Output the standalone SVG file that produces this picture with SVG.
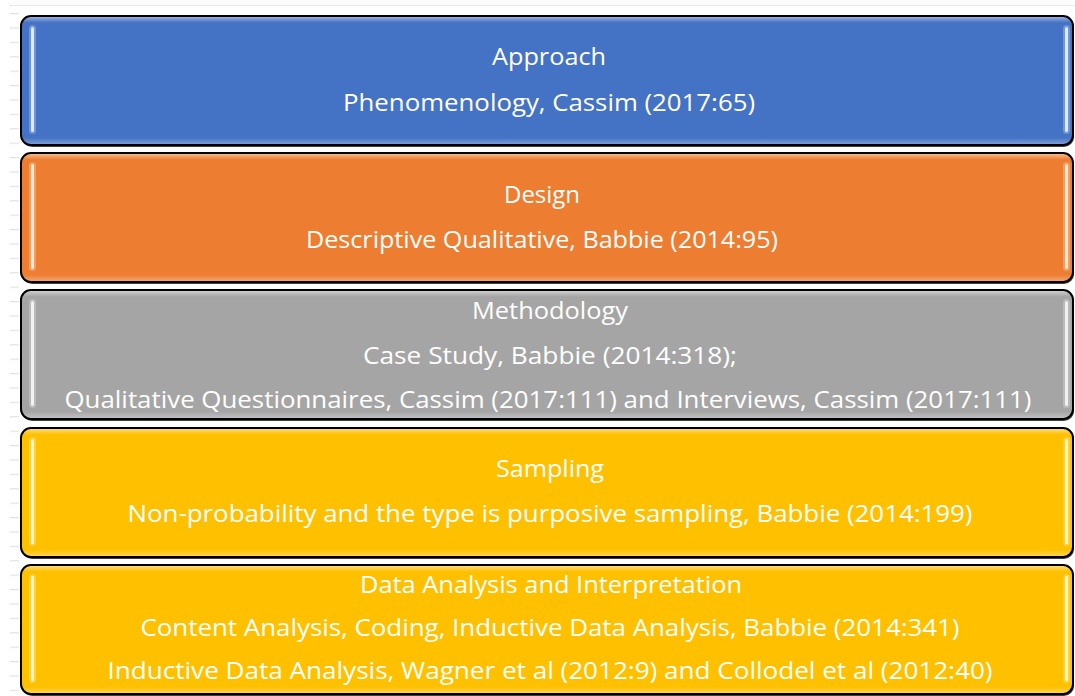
<svg xmlns="http://www.w3.org/2000/svg" width="1075" height="696" viewBox="0 0 1075 696">
<defs>
<linearGradient id="bevel" x1="0" y1="0" x2="0" y2="1">
<stop offset="0" stop-color="#fff" stop-opacity="0.45"/>
<stop offset="0.045" stop-color="#fff" stop-opacity="0"/>
<stop offset="0.95" stop-color="#fff" stop-opacity="0"/>
<stop offset="1" stop-color="#fff" stop-opacity="0.3"/>
</linearGradient>
<pattern id="dash" x="0" y="13" width="30" height="14.4" patternUnits="userSpaceOnUse">
<rect x="10" y="0" width="9" height="1.2" fill="#e2e2e2"/>
</pattern>
</defs>
<style>
.shadow{fill:#000;opacity:.75}
.box{stroke:#000;stroke-width:2}
.bev{fill:url(#bevel)}
.hl{fill:#fff;opacity:.8}
.glow{fill:#fff;opacity:.25}
.t{font-family:"Open Sans","Noto Sans",sans-serif;font-size:24px;fill:#fff;text-anchor:middle}
</style>
<rect width="1075" height="696" fill="#fff"/>
<line x1="10" y1="5.5" x2="1075" y2="5.5" stroke="#e4e4e4" stroke-width="1.2" stroke-dasharray="3 1"/>
<rect x="0" y="13" width="22" height="683" fill="url(#dash)"/>

<g id="approach">
<rect class="shadow" x="22" y="18" width="1052" height="129" rx="10"/>
<rect class="box" x="21" y="16" width="1052" height="129" rx="10" fill="#4472C4"/>
<rect class="bev" x="22" y="17" width="1050" height="127" rx="9"/>
<rect class="glow" x="29" y="25" width="7" height="109" rx="3.5"/>
<rect class="hl" x="31" y="27" width="3" height="105" rx="1.5"/>
<rect class="glow" x="1063" y="25" width="7" height="109" rx="3.5"/>
<rect class="hl" x="1065" y="27" width="3" height="105" rx="1.5"/>
<text class="t" x="549" y="65" textLength="114" lengthAdjust="spacingAndGlyphs">Approach</text>
<text class="t" x="549" y="111" textLength="412" lengthAdjust="spacingAndGlyphs">Phenomenology, Cassim (2017:65)</text>
</g>

<g id="design">
<rect class="shadow" x="22" y="155" width="1052" height="129" rx="10"/>
<rect class="box" x="21" y="153" width="1052" height="129" rx="10" fill="#ED7D31"/>
<rect class="bev" x="22" y="154" width="1050" height="127" rx="9"/>
<rect class="glow" x="29" y="162" width="7" height="109" rx="3.5"/>
<rect class="hl" x="31" y="164" width="3" height="105" rx="1.5"/>
<rect class="glow" x="1063" y="162" width="7" height="109" rx="3.5"/>
<rect class="hl" x="1065" y="164" width="3" height="105" rx="1.5"/>
<text class="t" x="542" y="203" textLength="76" lengthAdjust="spacingAndGlyphs">Design</text>
<text class="t" x="542" y="248" textLength="472" lengthAdjust="spacingAndGlyphs">Descriptive Qualitative, Babbie (2014:95)</text>
</g>

<g id="methodology">
<rect class="shadow" x="22" y="292" width="1052" height="129" rx="10"/>
<rect class="box" x="21" y="290" width="1052" height="129" rx="10" fill="#A5A5A5"/>
<rect class="bev" x="22" y="291" width="1050" height="127" rx="9"/>
<rect class="glow" x="29" y="299" width="7" height="109" rx="3.5"/>
<rect class="hl" x="31" y="301" width="3" height="105" rx="1.5"/>
<rect class="glow" x="1063" y="299" width="7" height="109" rx="3.5"/>
<rect class="hl" x="1065" y="301" width="3" height="105" rx="1.5"/>
<text class="t" x="550" y="319" textLength="156" lengthAdjust="spacingAndGlyphs">Methodology</text>
<text class="t" x="550" y="364" textLength="374" lengthAdjust="spacingAndGlyphs">Case Study, Babbie (2014:318);</text>
<text class="t" x="548" y="408" textLength="967" lengthAdjust="spacingAndGlyphs">Qualitative Questionnaires, Cassim (2017:111) and Interviews, Cassim (2017:111)</text>
</g>

<g id="sampling">
<rect class="shadow" x="22" y="430" width="1052" height="129" rx="10"/>
<rect class="box" x="21" y="428" width="1052" height="129" rx="10" fill="#FFC000"/>
<rect class="bev" x="22" y="429" width="1050" height="127" rx="9"/>
<rect class="glow" x="29" y="437" width="7" height="109" rx="3.5"/>
<rect class="hl" x="31" y="439" width="3" height="105" rx="1.5"/>
<rect class="glow" x="1063" y="437" width="7" height="109" rx="3.5"/>
<rect class="hl" x="1065" y="439" width="3" height="105" rx="1.5"/>
<text class="t" x="550" y="477" textLength="108" lengthAdjust="spacingAndGlyphs">Sampling</text>
<text class="t" x="550" y="522" textLength="845" lengthAdjust="spacingAndGlyphs">Non-probability and the type is purposive sampling, Babbie (2014:199)</text>
</g>

<g id="data-analysis">
<rect class="shadow" x="22" y="567" width="1052" height="129" rx="10"/>
<rect class="box" x="21" y="565" width="1052" height="129" rx="10" fill="#FFC000"/>
<rect class="bev" x="22" y="566" width="1050" height="127" rx="9"/>
<rect class="glow" x="29" y="574" width="7" height="109" rx="3.5"/>
<rect class="hl" x="31" y="576" width="3" height="105" rx="1.5"/>
<rect class="glow" x="1063" y="574" width="7" height="109" rx="3.5"/>
<rect class="hl" x="1065" y="576" width="3" height="105" rx="1.5"/>
<text class="t" x="551" y="593" textLength="382" lengthAdjust="spacingAndGlyphs">Data Analysis and Interpretation</text>
<text class="t" x="550" y="636" textLength="819" lengthAdjust="spacingAndGlyphs">Content Analysis, Coding, Inductive Data Analysis, Babbie (2014:341)</text>
<text class="t" x="550" y="679" textLength="885" lengthAdjust="spacingAndGlyphs">Inductive Data Analysis, Wagner et al (2012:9) and Collodel et al (2012:40)</text>
</g>

<g id="connectors"></g>
</svg>
